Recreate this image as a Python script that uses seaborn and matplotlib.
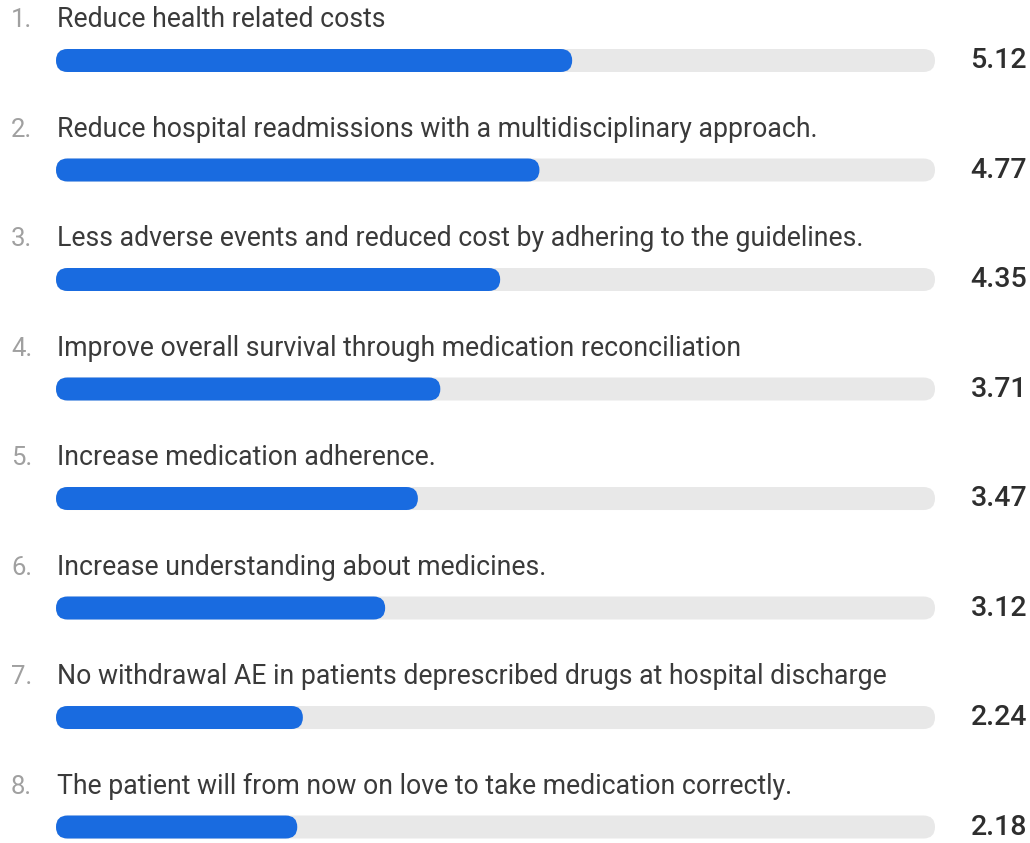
import matplotlib
matplotlib.use("Agg")
import matplotlib.pyplot as plt
from matplotlib import transforms
from matplotlib.patches import FancyBboxPatch
import pandas as pd
import seaborn as sns

# ── Data ───────────────────────────────
ranks = ["1.", "2.", "3.", "4.", "5.", "6.", "7.", "8."]
items = [
    "Reduce health related costs",
    "Reduce hospital readmissions with a multidisciplinary approach.",
    "Less adverse events and reduced cost by adhering to the guidelines.",
    "Improve overall survival through medication reconciliation",
    "Increase medication adherence.",
    "Increase understanding about medicines.",
    "No withdrawal AE in patients deprescribed drugs at hospital discharge",
    "The patient will from now on love to take medication correctly.",
]
scores = [5.12, 4.77, 4.35, 3.71, 3.47, 3.12, 2.24, 2.18]

SCALE_MIN = -0.4   # where the track starts
SCALE_MAX = 9.0    # where the track ends

BLUE = "#196be0"
TRACK = "#e8e8e8"
TEXT = "#3a3a3a"
RANK = "#a0a0a0"

df = pd.DataFrame({"item": items, "score": scores, "track": SCALE_MAX})

# ── Style ──────────────────────────────
sns.set_theme(style="white")
plt.rcParams["font.family"] = ["Roboto", "DejaVu Sans"]

W, H = 1030, 843
fig = plt.figure(figsize=(W / 100, H / 100), dpi=100)
ax = fig.add_axes([56 / W, 0, (935 - 56) / W, 1])

sns.barplot(data=df, x="track", y="item", orient="h", color=TRACK,
            width=0.21, saturation=1, ax=ax)
sns.barplot(data=df, x="score", y="item", orient="h", color=BLUE,
            width=0.21, saturation=1, ax=ax)

ax.set_xlim(SCALE_MIN, SCALE_MAX)
ax.set_ylim(7.146, -0.5525)
ax.set_axis_off()

# ── Rounded (pill) bars ────────────────
p0 = ax.transData.transform((0, 0))
px_x = ax.transData.transform((1, 0))[0] - p0[0]
px_y = abs(ax.transData.transform((0, 1))[1] - p0[1])
aspect = px_x / px_y

bars = list(ax.patches)
for p in bars:
    x1 = p.get_x() + p.get_width()
    y0, h = p.get_y(), p.get_height()
    r = h / aspect / 2
    pill = FancyBboxPatch((SCALE_MIN, y0), x1 - SCALE_MIN, h,
                          boxstyle=f"round,pad=0,rounding_size={r}",
                          mutation_aspect=aspect,
                          facecolor=p.get_facecolor(), edgecolor="none",
                          zorder=p.get_zorder())
    p.remove()
    ax.add_patch(pill)

# ── Texts ──────────────────────────────
lab_off = 33.5 / px_y
fig_y = transforms.blended_transform_factory(fig.transFigure, ax.transData)

for i, (rk, name, val) in enumerate(zip(ranks, items, scores)):
    ax.text(SCALE_MIN + 1 / px_x, i - lab_off, name, ha="left", va="baseline",
            fontsize=19.2, color=TEXT, clip_on=False)
    fig.text(11 / W, i - lab_off, rk, transform=fig_y, ha="left",
             va="baseline", fontsize=18.5, color=RANK)
    fig.text(1027 / W, i, f"{val:.2f}", transform=fig_y, ha="right",
             va="center", fontsize=20.5, color="#2e2e2e", fontweight="medium")

fig.savefig("out.png", dpi=100)
